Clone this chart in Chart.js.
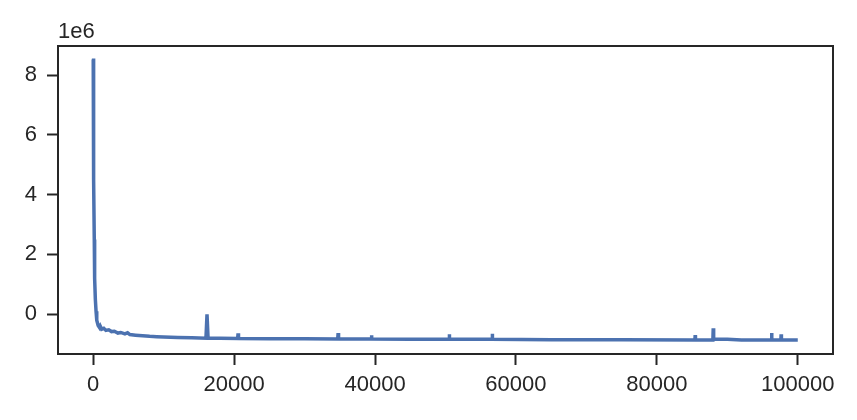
<!DOCTYPE html>
<html>
<head>
<meta charset="utf-8">
<script src="https://cdn.jsdelivr.net/npm/chart.js@4/dist/chart.umd.min.js"></script>
<style>
    html, body { margin: 0; padding: 0; background: #ffffff; }
    #wrap { width: 857px; height: 420px; }
</style>
</head>
<body>
<div id="wrap"><canvas id="lossChart" width="857" height="420"></canvas></div>
<script>
// Values (y in units of 1e6)
const steps = [
    0, 20, 40, 60, 100, 150, 200, 300, 400, 500, 700, 900,
    1000, 1200, 1500, 1800, 2200, 2600, 3000, 3500, 3900, 4500, 4880, 5200,
    6000, 7000, 8000, 9000, 10000, 12000, 14000, 16000, 16150, 16300,
    18000, 20500, 20560, 20620, 25000, 30000, 34700, 34760, 34820,
    39460, 39500, 39540, 45000, 50500, 50540, 50580, 56600, 56640, 56680,
    65000, 75000, 85400, 85440, 85480, 87950, 88000, 88060, 90000, 92000,
    96250, 96290, 96330, 97600, 97640, 97680, 100000
];
const lossValues = [
    8.52, 8.55, 7.6, 6.0, 4.5, 2.5, 1.2, 0.5, 0.1, -0.2, -0.38, -0.45,
    -0.4, -0.5, -0.47, -0.54, -0.52, -0.58, -0.57, -0.63, -0.61, -0.66, -0.62, -0.68,
    -0.7, -0.72, -0.74, -0.75, -0.76, -0.78, -0.79, -0.8, 0.0, -0.8,
    -0.8, -0.81, -0.64, -0.81, -0.82, -0.82, -0.83, -0.63, -0.83,
    -0.83, -0.7, -0.83, -0.84, -0.84, -0.67, -0.84, -0.84, -0.65, -0.84,
    -0.85, -0.85, -0.86, -0.7, -0.86, -0.86, -0.47, -0.83, -0.84, -0.86,
    -0.86, -0.63, -0.86, -0.86, -0.67, -0.86, -0.86
];
const xTicks = [0, 20000, 40000, 60000, 80000, 100000];
const yTicks = [0, 2, 4, 6, 8];

const ink = '#262626';
const fontSpec = { family: '"Liberation Sans", Arial, sans-serif', size: 22 };

const points = steps.map((s, i) => ({ x: s, y: lossValues[i] * 1e6 }));

// Frame around the plot area and the offset label
const framePlugin = {
    id: 'frame',
    afterDraw(chart) {
        const { ctx, chartArea: a } = chart;
        ctx.save();
        ctx.strokeStyle = ink;
        ctx.lineWidth = 2;
        ctx.strokeRect(a.left, a.top, a.right - a.left, a.bottom - a.top);
        ctx.fillStyle = ink;
        ctx.font = '22px "Liberation Sans", Arial, sans-serif';
        ctx.textAlign = 'left';
        ctx.textBaseline = 'alphabetic';
        ctx.fillText('1e6', a.left, 38);
        ctx.restore();
    }
};

new Chart(document.getElementById('lossChart').getContext('2d'), {
    type: 'scatter',
    data: {
        datasets: [{
            data: points,
            showLine: true,
            borderColor: '#4c72b0',
            borderWidth: 3.5,
            pointRadius: 0,
            tension: 0
        }]
    },
    options: {
        responsive: false,
        animation: false,
        layout: { padding: { left: 0, right: 24, top: 46, bottom: 0 } },
        plugins: { legend: { display: false }, tooltip: { enabled: false } },
        scales: {
            x: {
                type: 'linear',
                min: -5000,
                max: 105000,
                afterBuildTicks: scale => { scale.ticks = xTicks.map(v => ({ value: v })); },
                afterFit: scale => { scale.height = 66; },
                border: { display: false },
                grid: { drawOnChartArea: false, tickLength: 11, tickWidth: 2, tickColor: ink },
                ticks: { color: ink, font: fontSpec, padding: 7, maxRotation: 0,
                         callback: v => String(v) }
            },
            y: {
                min: -1.33e6,
                max: 8.97e6,
                afterBuildTicks: scale => { scale.ticks = yTicks.map(v => ({ value: v * 1e6 })); },
                afterFit: scale => { scale.width = 58; },
                border: { display: false },
                grid: { drawOnChartArea: false, tickLength: 11, tickWidth: 2, tickColor: ink },
                ticks: { color: ink, font: fontSpec, padding: 10,
                         callback: v => String(Math.round(v / 1e6)) }
            }
        }
    },
    plugins: [framePlugin]
});
</script>
</body>
</html>
